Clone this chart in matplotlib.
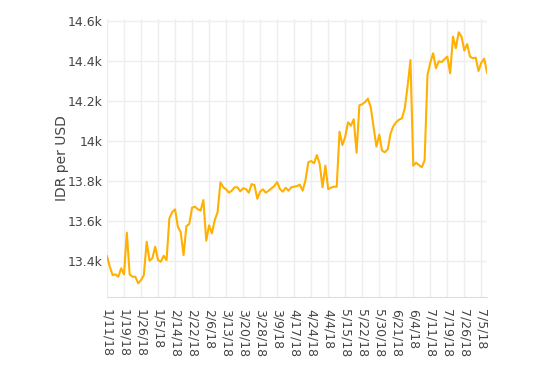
import matplotlib.pyplot as plt

# dates as text, in the (string sorted) order the chart shows them
dates = [
    "1/11/18", "1/12/18", "1/15/18", "1/16/18", "1/17/18", "1/18/18", "1/19/18",
    "1/2/18", "1/22/18", "1/23/18", "1/24/18", "1/25/18", "1/26/18", "1/29/18",
    "1/3/18", "1/30/18", "1/31/18", "1/4/18", "1/5/18", "1/8/18", "1/9/18",
    "2/1/18", "2/12/18", "2/13/18", "2/14/18", "2/15/18", "2/19/18", "2/2/18",
    "2/20/18", "2/21/18", "2/22/18", "2/23/18", "2/26/18", "2/27/18", "2/28/18",
    "2/5/18", "2/6/18", "2/7/18", "2/8/18", "2/9/18",
    "3/1/18", "3/12/18", "3/13/18", "3/14/18", "3/15/18", "3/16/18", "3/19/18",
    "3/2/18", "3/20/18", "3/21/18", "3/22/18", "3/23/18", "3/26/18", "3/27/18",
    "3/28/18", "3/29/18", "3/5/18", "3/6/18", "3/7/18", "3/8/18", "3/9/18",
    "4/10/18", "4/11/18", "4/12/18", "4/13/18", "4/16/18", "4/17/18", "4/18/18",
    "4/19/18", "4/2/18", "4/20/18", "4/23/18", "4/24/18", "4/25/18", "4/26/18",
    "4/27/18", "4/3/18", "4/30/18", "4/4/18", "4/5/18", "4/6/18", "4/9/18",
    "5/11/18", "5/14/18", "5/15/18", "5/16/18", "5/17/18", "5/18/18", "5/2/18",
    "5/21/18", "5/22/18", "5/23/18", "5/24/18", "5/25/18", "5/28/18", "5/3/18",
    "5/30/18", "5/31/18", "5/4/18", "5/7/18", "5/8/18", "5/9/18",
    "6/21/18", "6/22/18", "6/25/18", "6/26/18", "6/28/18", "6/29/18", "6/4/18",
    "6/5/18", "6/6/18", "6/7/18", "6/8/18",
    "7/10/18", "7/11/18", "7/12/18", "7/13/18", "7/16/18", "7/17/18", "7/18/18",
    "7/19/18", "7/2/18", "7/20/18", "7/23/18", "7/24/18", "7/25/18", "7/26/18",
    "7/27/18", "7/3/18", "7/30/18", "7/31/18", "7/4/18", "7/5/18", "7/6/18",
    "7/9/18",
]

idr = [
    13423, 13370, 13328, 13332, 13320, 13362, 13332, 13540, 13332, 13320,
    13320, 13287, 13303, 13328, 13495, 13400, 13412, 13470, 13403, 13395,
    13425, 13403, 13612, 13643, 13657, 13570, 13542, 13428, 13573, 13583,
    13665, 13670, 13658, 13650, 13703, 13500, 13577, 13537, 13603, 13643,
    13792, 13767, 13757, 13740, 13750, 13767, 13767, 13747, 13762, 13758,
    13740, 13783, 13778, 13710, 13745, 13757, 13740, 13750, 13762, 13773,
    13793, 13758, 13745, 13765, 13750, 13767, 13770, 13773, 13780, 13750,
    13803, 13893, 13898, 13887, 13928, 13883, 13767, 13875, 13758, 13765,
    13770, 13770, 14045, 13978, 14020, 14092, 14075, 14107, 13940, 14177,
    14182, 14193, 14210, 14167, 14070, 13970, 14030, 13950, 13942, 13957,
    14037, 14073, 14093, 14105, 14112, 14162, 14273, 14403, 13875, 13890,
    13878, 13867, 13902, 14328, 14390, 14437, 14362, 14397, 14393, 14407,
    14420, 14337, 14520, 14462, 14542, 14520, 14450, 14483, 14420, 14412,
    14415, 14348, 14390, 14410, 14340,
]

yticks = [13400, 13600, 13800, 14000, 14200, 14400, 14600]
ytick_labels = ["13.4k", "13.6k", "13.8k", "14k", "14.2k", "14.4k", "14.6k"]

fig = plt.figure(figsize=(5.5, 3.65), dpi=100)
ax = fig.add_axes([0.1945, 0.187, 0.691, 0.762])

x = list(range(len(dates)))
ax.plot(x, idr, color="#FFB000", linewidth=1.5, solid_joinstyle="round")

ax.set_xlim(0, len(dates) - 1)
ax.set_ylim(13220, 14610)

ax.set_xticks(x[::6])
ax.set_xticklabels(dates[::6], rotation=-90, fontsize=9, color="#444444")
ax.set_yticks(yticks)
ax.set_yticklabels(ytick_labels, fontsize=9, color="#444444")

ax.grid(True, color="#eeeeee", linewidth=1)
ax.set_axisbelow(True)
ax.tick_params(length=0)
ax.tick_params(axis="x", pad=9)
ax.tick_params(axis="y", pad=3)

for s in ["top", "left", "right"]:
    ax.spines[s].set_visible(False)
ax.spines["bottom"].set_color("#dddddd")

# label sits just left of the tick labels (they touch in the original)
ax.set_ylabel("IDR per USD", fontsize=10, color="#444444", va="center")
ax.yaxis.set_label_coords(-0.118, 0.5)

fig.savefig("out.png", dpi=100)
